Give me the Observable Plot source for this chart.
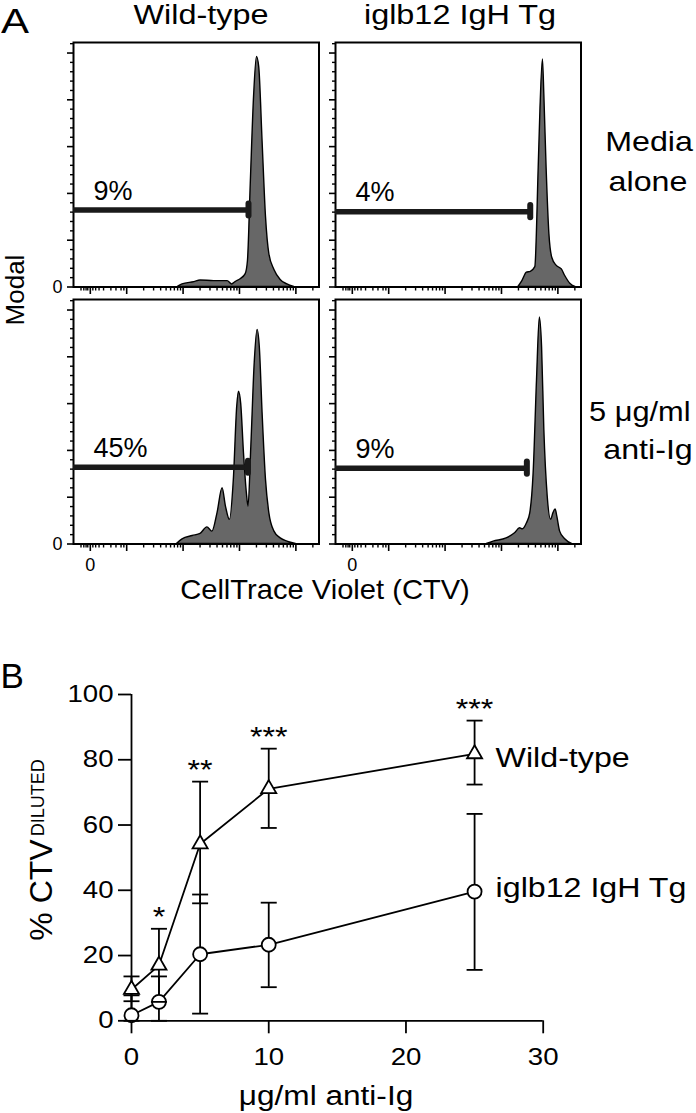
<!DOCTYPE html>
<html><head><meta charset="utf-8">
<script src="https://cdn.jsdelivr.net/npm/d3@7"></script>
<script src="https://cdn.jsdelivr.net/npm/@observablehq/plot@0.6"></script>
<style>
body{margin:0;background:#fff;}
#fig{position:relative;width:696px;height:1113px;overflow:hidden;font-family:"Liberation Sans",Arial,sans-serif;color:#000;background:#fff;}
.lbl{position:absolute;white-space:nowrap;line-height:0.8;}
</style></head><body><div id="fig"></div>
<script>
// ---------------- Panel A data ----------------
const genotypes = ["Wild-type", "iglb12 IgH Tg"];
const conditionLines = [["Media", "alone"], ["5 μg/ml", "anti-Ig"]];
const xAxisTitle = "CellTrace Violet (CTV)";
const yAxisTitleA = "Modal";

// CTV intensity in display decades (logicle-like), y = % of mode
const histX_wtMedia = [1.90,1.99,2.20,2.31,2.55,2.79,2.87,2.93,3.02,3.11,3.15,3.20,3.26,3.31,3.35,3.41,3.47,3.53,3.62,3.73,3.85,3.97];
const histY_wtMedia = [0,1.1,2.1,2.8,2.5,2.5,1.1,2.1,3.3,5.5,11,44,82,98.3,94,62,30,14,7.3,3.0,1.1,0];

const histX_iglMedia = [3.30,3.37,3.45,3.52,3.60,3.66,3.69,3.735,3.76,3.80,3.85,3.90,3.98,4.07,4.13,4.22,4.31];
const histY_iglMedia = [0,2.5,6.1,6.5,8.5,51,75,97.3,82,51,22.5,12.5,9,7.5,4.7,1.4,0];

const histX_wtAnti = [1.89,1.99,2.17,2.31,2.43,2.52,2.61,2.70,2.76,2.83,2.90,2.96,2.99,3.03,3.08,3.13,3.16,3.21,3.27,3.32,3.36,3.41,3.47,3.53,3.62,3.73,3.85,4.00];
const histY_wtAnti = [0,2.0,3.4,4.3,7.1,5.3,13.1,23.8,16,10.3,27.4,58.7,65.1,60,38.7,22,16,41.6,77.2,91.5,84.3,55.8,27.4,13.1,5.3,2.4,1.0,0];

const histX_iglAnti = [2.74,2.86,3.09,3.24,3.33,3.38,3.45,3.51,3.57,3.63,3.68,3.72,3.76,3.82,3.88,3.92,3.96,3.99,4.04,4.13,4.25];
const histY_iglAnti = [0,1.0,2.4,4.6,6.7,6.3,8.8,13.1,30.2,70,96.8,84,48.7,20.2,10.3,13.1,14.8,11.7,5.3,2.0,0];

// gates: order wtMedia, iglMedia, wtAnti, iglAnti
const gateLevel = [32.9, 32.2, 32.8, 32.4];
const gateEnd = [3.16, 3.51, 3.15, 3.45];
const gatePercent = ["9%", "4%", "45%", "9%"];

// axis ticks
const histXDomain = [0.057, 4.41];
const histYDomain = [0, 104.5];
const histXZero = 0.355;
const histXMajor = [histXZero, 1, 2, 3, 4];
const histXLowMinor = [0.19, 0.24, 0.28, 0.31, 0.40, 0.45, 0.51, 0.59, 0.72, 0.81, 0.90, 0.95];
const histYMajor = [0, 20, 40, 60, 80, 100];

// ---------------- Panel B data ----------------
const doses = [0, 2, 5, 10, 25];
const seriesNames = ["Wild-type", "iglb12 IgH Tg"];
const wtMean = [9.6, 17.0, 54.2, 71.1, 81.8];
const wtLo   = [6.0, 5.8, 36.0, 59.1, 72.4];
const wtHi   = [13.6, 28.2, 73.3, 83.4, 92.0];
const iglMean = [1.7, 5.8, 20.4, 23.3, 39.6];
const iglLo   = [0, 0, 2.2, 10.3, 15.6];
const iglHi   = [7.8, 13.6, 38.7, 36.2, 63.4];
const significance = ["", "*", "**", "***", "***"];
const yTicksB = [0, 20, 40, 60, 80, 100];
const xTicksB = [0, 10, 20, 30];
const xTitleB = "μg/ml anti-Ig";

// ---------------- helpers ----------------
const FONT = "Liberation Sans, Arial, Helvetica, sans-serif";
const LH = 0.8;
const BASE = LH / 2 + 0.3465; // baseline offset from box top, in em (Liberation Sans)
const fig = document.getElementById("fig");

function addText(html, x, baseline, fs, {anchor = "middle", sx = 1} = {}) {
  const d = document.createElement("div");
  d.className = "lbl";
  d.innerHTML = html;
  d.style.fontSize = fs + "px";
  d.style.left = x + "px";
  d.style.top = (baseline - BASE * fs) + "px";
  const tx = anchor === "middle" ? "-50%" : anchor === "end" ? "-100%" : "0";
  d.style.transformOrigin = anchor === "middle" ? "50% 50%" : anchor === "end" ? "100% 50%" : "0 50%";
  d.style.transform = `translateX(${tx}) scaleX(${sx})`;
  fig.appendChild(d);
}
function addRot(html, cx, cy, fs) {
  const d = document.createElement("div");
  d.className = "lbl";
  d.innerHTML = html;
  d.style.fontSize = fs + "px";
  d.style.left = cx + "px";
  d.style.top = cy + "px";
  d.style.transform = "translate(-50%,-50%) rotate(-90deg)";
  fig.appendChild(d);
}
function place(svg, left, top) {
  svg.style.position = "absolute";
  svg.style.left = left + "px";
  svg.style.top = top + "px";
  fig.appendChild(svg);
}
function stretchTexts(svg, sx) {
  svg.querySelectorAll("text").forEach(t => {
    const tr = t.getAttribute("transform") || "";
    if (tr.includes("rotate")) return;
    t.setAttribute("transform", (tr ? tr + " " : "") + `scale(${sx},1)`);
  });
}

const histYMinor = d3.range(0, 105, 4).filter(v => v % 20 !== 0);
const histXMinor = histXLowMinor.concat(
  d3.range(1, 5).flatMap(k => d3.range(2, 10).map(m => k + Math.log10(m)))
).filter(v => v < histXDomain[1]);

const capSymbol = {draw(ctx, size) { const r = Math.sqrt(size / Math.PI); ctx.moveTo(-r, 0); ctx.lineTo(r, 0); }};

// ---------------- Panel A ----------------
const PW = 245.5, PH = 244.5, ML = 30, MR = 3.5, MT = 3, MB = 32;
function histPlot(xs, ys, gi, showY0, showX0) {
  const data = xs.map((x, i) => ({x, y: ys[i]}));
  const gate = [{x1: histXDomain[0], x2: gateEnd[gi], y: gateLevel[gi], label: gatePercent[gi]}];
  return Plot.plot({
    width: ML + PW + MR, height: MT + PH + MB,
    marginLeft: ML, marginRight: MR, marginTop: MT, marginBottom: MB,
    style: {background: "transparent", fontFamily: FONT, overflow: "visible", color: "#000"},
    x: {domain: histXDomain, label: null},
    y: {domain: histYDomain, label: null},
    marks: [
      Plot.areaY(data, {x: "x", y: "y", fill: "#676767", stroke: "#000", strokeWidth: 1.4, curve: "monotone-x"}),
      Plot.frame({stroke: "#000", strokeWidth: 2}),
      Plot.ruleY(gate, {x1: "x1", x2: "x2", y: "y", stroke: "#1a1a1a", strokeWidth: 5.5}),
      Plot.ruleX(gate, {x: "x2", y1: d => d.y - 2.6, y2: d => d.y + 2.6, stroke: "#1a1a1a", strokeWidth: 6, strokeLinecap: "round"}),
      Plot.text(gate, {x: "x1", y: "y", text: "label", textAnchor: "start", dx: 20, dy: -19, fontSize: 27, fill: "#000"}),
      Plot.axisY({ticks: histYMajor, tickSize: 6, tickPadding: 5, tickFormat: v => (showY0 && v === 0) ? "0" : "", strokeWidth: 1.6, fontSize: 18, label: null}),
      Plot.axisY({ticks: histYMinor, tickSize: 3, tickFormat: () => "", strokeWidth: 1.4, label: null}),
      Plot.axisX({ticks: histXMajor, tickSize: 7.5, tickPadding: 6.5, tickFormat: v => (showX0 && v === histXZero) ? "0" : "", strokeWidth: 1.6, fontSize: 18, label: null}),
      Plot.axisX({ticks: histXMinor, tickSize: 4, tickFormat: () => "", strokeWidth: 1.4, label: null})
    ]
  });
}
const colLeft = [72.7, 335.2], rowTop = [41.5, 299.3];
place(histPlot(histX_wtMedia, histY_wtMedia, 0, true, false), colLeft[0] - ML, rowTop[0] - MT);
place(histPlot(histX_iglMedia, histY_iglMedia, 1, false, false), colLeft[1] - ML, rowTop[0] - MT);
place(histPlot(histX_wtAnti, histY_wtAnti, 2, true, true), colLeft[0] - ML, rowTop[1] - MT);
place(histPlot(histX_iglAnti, histY_iglAnti, 3, false, true), colLeft[1] - ML, rowTop[1] - MT);

addText("A", 1, 33.5, 35, {anchor: "start", sx: 1.2});
addText(genotypes[0], 200.5, 25, 27, {sx: 1.2});
addText(genotypes[1], 460, 25, 27, {sx: 1.2});
addText(conditionLines[0][0], 648.5, 152, 28, {sx: 1.15});
addText(conditionLines[0][1], 648, 191.7, 28, {sx: 1.15});
addText(conditionLines[1][0], 589, 421.7, 28, {anchor: "start", sx: 1.1});
addText(conditionLines[1][1], 647.5, 460, 28, {sx: 1.15});
addRot(yAxisTitleA, 15, 290, 26);
addText(xAxisTitle, 325, 600, 28, {sx: 1.04});

// ---------------- Panel B ----------------
const wt = doses.map((x, i) => ({x, y: wtMean[i], lo: wtLo[i], hi: wtHi[i], sig: significance[i]}));
const igl = doses.map((x, i) => ({x, y: iglMean[i], lo: iglLo[i], hi: iglHi[i]}));
const SW = 1.8;
const plotB = Plot.plot({
  width: 696, height: 453,
  marginLeft: 131, marginRight: 153.3, marginTop: 34, marginBottom: 92.7,
  style: {background: "transparent", fontFamily: FONT, overflow: "visible", color: "#000"},
  x: {domain: [0, 30], label: null},
  y: {domain: [0, 100], label: null},
  marks: [
    Plot.ruleX([0], {y1: 0, y2: 100, stroke: "#000", strokeWidth: SW}),
    Plot.ruleY([0], {stroke: "#000", strokeWidth: SW}),
    Plot.axisY({ticks: yTicksB, tickSize: 13, tickPadding: 5, strokeWidth: SW, fontSize: 24, label: null}),
    Plot.axisX({ticks: xTicksB, tickSize: 13, tickPadding: 14, strokeWidth: SW, fontSize: 24, label: null}),
    Plot.ruleX(igl, {x: "x", y1: "lo", y2: "hi", stroke: "#000", strokeWidth: SW}),
    Plot.ruleX(wt, {x: "x", y1: "lo", y2: "hi", stroke: "#000", strokeWidth: SW}),
    Plot.line(igl, {x: "x", y: "y", stroke: "#000", strokeWidth: SW}),
    Plot.line(wt, {x: "x", y: "y", stroke: "#000", strokeWidth: SW}),
    Plot.dot(igl, {x: "x", y: "y", r: 7, symbol: "circle", fill: "#fff", stroke: "#000", strokeWidth: SW}),
    Plot.dot(wt, {x: "x", y: "y", r: 5.6, symbol: "triangle", fill: "#fff", stroke: "#000", strokeWidth: SW}),
    Plot.dot(igl, {x: "x", y: "hi", r: 8, symbol: capSymbol, fill: "none", stroke: "#000", strokeWidth: SW}),
    Plot.dot(igl, {x: "x", y: "lo", r: 8, symbol: capSymbol, fill: "none", stroke: "#000", strokeWidth: SW}),
    Plot.dot(wt, {x: "x", y: "hi", r: 8, symbol: capSymbol, fill: "none", stroke: "#000", strokeWidth: SW}),
    Plot.dot(wt, {x: "x", y: "lo", r: 8, symbol: capSymbol, fill: "none", stroke: "#000", strokeWidth: SW}),
    Plot.text(wt, {x: "x", y: "hi", text: "sig", lineAnchor: "bottom", dy: -3, fontSize: 28, fill: "#000"}),
    Plot.text(wt.slice(-1), {x: "x", y: "y", text: () => seriesNames[0], textAnchor: "start", dx: 21, dy: 4, fontSize: 28, fill: "#000"}),
    Plot.text(igl.slice(-1), {x: "x", y: "y", text: () => seriesNames[1], textAnchor: "start", dx: 21, dy: -4, fontSize: 28, fill: "#000"})
  ]
});
stretchTexts(plotB, 1.15);
place(plotB, 0, 660);

addText("B", 0.5, 688, 35, {anchor: "start"});
addText(xTitleB, 326, 1106, 27, {sx: 1.17});
addRot('% CTV<span style="font-size:18px;vertical-align:8px;margin-left:3px">DILUTED</span>', 41.5, 850, 32);
</script></body></html>
